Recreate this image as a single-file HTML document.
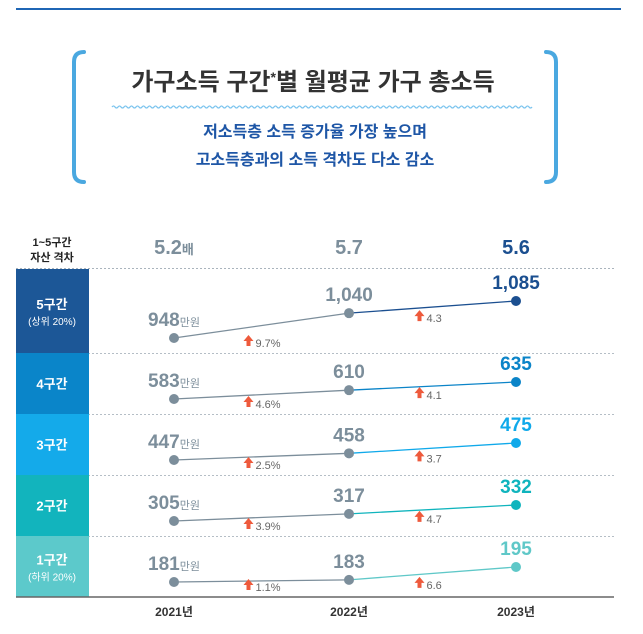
<!DOCTYPE html>
<html><head><meta charset="utf-8">
<style>
body{margin:0;background:#fff;}
#wrap{position:relative;width:643px;height:634px;overflow:hidden;font-family:"Liberation Sans","Noto Sans CJK KR",sans-serif;}
svg text{font-family:"Liberation Sans","Noto Sans CJK KR",sans-serif;}
</style></head>
<body>
<div id="wrap">
<svg id="svg" width="643" height="634" viewBox="0 0 643 634">
  <line x1="16" y1="9" x2="621" y2="9" stroke="#1f66b5" stroke-width="2"/>
  <path d="M84 52 Q74 52 74 62 L74 172 Q74 182 84 182" fill="none" stroke="#4aa8e0" stroke-width="4" stroke-linecap="round"/>
  <path d="M546 52 Q556 52 556 62 L556 172 Q556 182 546 182" fill="none" stroke="#4aa8e0" stroke-width="4" stroke-linecap="round"/>
  <text x="313" y="90" text-anchor="middle" font-size="24" font-weight="bold" fill="#333">가구소득 구간<tspan font-size="14" dy="-8">*</tspan><tspan dy="8">별 월평균 가구 총소득</tspan></text>
  <path id="wave" fill="none" stroke="#7cc4ee" stroke-width="1.3"/>
  <text x="315" y="137" text-anchor="middle" font-size="16" font-weight="bold" fill="#1e56a6">저소득층 소득 증가율 가장 높으며</text>
  <text x="315" y="165" text-anchor="middle" font-size="16" font-weight="bold" fill="#1e56a6">고소득층과의 소득 격차도 다소 감소</text>
  <text x="52" y="246" text-anchor="middle" font-size="11" font-weight="bold" fill="#222">1~5구간</text>
  <text x="52" y="261" text-anchor="middle" font-size="11" font-weight="bold" fill="#222">자산 격차</text>
  <g id="g"></g>
  <line x1="16" y1="597" x2="614" y2="597" stroke="#666" stroke-width="1.5"/>
</svg>
</div>
<script>
const years = ["2021년","2022년","2023년"];
const gapValues = ["5.2","5.7","5.6"];
const groupNames = ["5구간","4구간","3구간","2구간","1구간"];
const groupSubs = ["(상위 20%)","","","","(하위 20%)"];
const incomeQ5 = [948,1040,1085];
const incomeQ4 = [583,610,635];
const incomeQ3 = [447,458,475];
const incomeQ2 = [305,317,332];
const incomeQ1 = [181,183,195];
const growth1 = ["9.7%","4.6%","2.5%","3.9%","1.1%"];
const growth2 = ["4.3","4.1","3.7","4.7","6.6"];

const series = [incomeQ5,incomeQ4,incomeQ3,incomeQ2,incomeQ1];
const NS="http://www.w3.org/2000/svg";
const g=document.getElementById('g');
function mk(t,a,p){const e=document.createElementNS(NS,t);for(const k in a)e.setAttribute(k,a[k]);(p||g).appendChild(e);return e;}
let d="M112 107";for(let x=112;x<532;x+=6){d+=` q1.5 -2 3 0 q1.5 2 3 0`;}
document.getElementById('wave').setAttribute('d',d);

const xs=[174,349,516];
function xScale(i){return xs[i];}
const rowTops=[269,353,414,475,536];
const rowBots=[353,414,475,536,597];
const blockColors=["#1c5797","#0a85c9","#14aaea","#12b4bd","#5cc9cb"];
const endColors=["#1b4f90","#0b84c8","#10a9ea","#10b4bd","#5fc8c8"];
const rowSpan=[37,17,17,16,15];
function yScale(r,v){const s=series[r];const mn=Math.min(...s),mx=Math.max(...s);const bot=rowBots[r]-15;return bot-(v-mn)/(mx-mn)*rowSpan[r];}

gapValues.forEach((v,i)=>{
  const t=mk('text',{x:xScale(i),y:254,'text-anchor':'middle','font-size':20,'font-weight':'bold',fill:i==2?'#1b4f90':'#7c8e9b'});
  
  
  t.textContent=v;
  if(i==0){const s=mk('tspan',{'font-size':13},t);s.textContent='배';}
});
const topSep=mk('line',{x1:16,y1:268.5,x2:614,y2:268.5,stroke:'#aab4bd','stroke-dasharray':'2,2'});



series.forEach((s,r)=>{
  const rect=mk('rect',{x:16,y:rowTops[r],width:73,height:rowBots[r]-rowTops[r],fill:blockColors[r]});
  
  
  const mid=(rowTops[r]+rowBots[r])/2;
  const hasSub=groupSubs[r]!=="";
  const t=mk('text',{x:52,y:hasSub?mid-2:mid+5,'text-anchor':'middle','font-size':13,'font-weight':'bold',fill:'#fff'});
  
  
  t.textContent=groupNames[r];
  if(hasSub){const u=mk('text',{x:52,y:mid+14,'text-anchor':'middle','font-size':10,fill:'#fff'});
    
    
    u.textContent=groupSubs[r];}
  if(r<4){const l=mk('line',{x1:16,y1:rowBots[r]+0.5,x2:614,y2:rowBots[r]+0.5,stroke:'#b5bec6','stroke-dasharray':'2,2'});
    
    }
  const p=s.map((v,i)=>[xScale(i),yScale(r,v)]);
  const l1=mk('line',{x1:p[0][0],y1:p[0][1],x2:p[1][0],y2:p[1][1],stroke:'#7c8e9b','stroke-width':1.3});
  
  
  const l2=mk('line',{x1:p[1][0],y1:p[1][1],x2:p[2][0],y2:p[2][1],stroke:endColors[r],'stroke-width':1.3});
  
  
  p.forEach((q,i)=>{
    const c=mk('circle',{cx:q[0],cy:q[1],r:5,fill:i==2?endColors[r]:'#7c8e9b'});
    
    
    const t=mk('text',{x:q[0],y:q[1]-12,'text-anchor':'middle','font-size':19,'font-weight':'bold',fill:i==2?endColors[r]:'#7c8e9b'});
    
    
    t.textContent=s[i].toLocaleString('en-US');
    if(i==0){t.setAttribute('text-anchor','end');t.setAttribute('x',q[0]+26);
      const u=mk('tspan',{'font-size':11,'font-weight':'normal'},t);u.textContent='만원';}
  });
  [[0,growth1[r]],[1,growth2[r]]].forEach(([i,txt])=>{
    const ax=(xScale(i)+xScale(i+1))/2-13;
    const ay=Math.max(p[i][1],p[i+1][1])+3;
    const a=mk('path',{d:`M${ax} ${ay-6} l-5 6 h3 v5 h4 v-5 h3 z`,fill:'#ee5a3c'});
    
    
    const t=mk('text',{x:ax+7,y:ay+6,'font-size':11,fill:'#666'});
    
    
    t.textContent=txt;
  });
});
years.forEach((y,i)=>{
  const t=mk('text',{x:xScale(i),y:616,'text-anchor':'middle','font-size':12,'font-weight':'bold',fill:'#333'});
  
  
  t.textContent=y;
});
</script>
</body></html>
